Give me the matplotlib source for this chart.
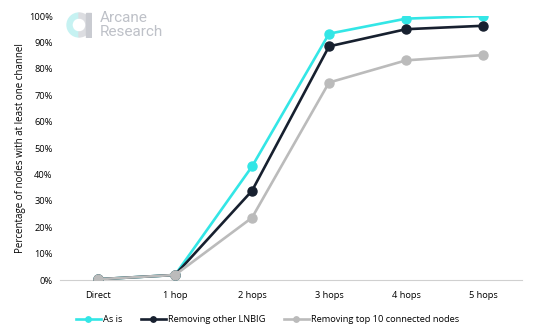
import matplotlib.pyplot as plt
from matplotlib.patches import Wedge, Rectangle

plt.rcParams['font.family'] = ['Open Sans', 'DejaVu Sans']

hops = ["Direct", "1 hop", "2 hops", "3 hops", "4 hops", "5 hops"]
as_is = [0.3, 1.9, 43.0, 93.3, 99.0, 100.0]
no_lnbig = [0.3, 1.9, 33.8, 88.5, 95.0, 96.3]
no_top10 = [0.3, 1.9, 23.6, 74.8, 83.2, 85.2]

fig = plt.figure(figsize=(5.41, 3.30), dpi=100)
ax = fig.add_axes([0.11, 0.1515, 0.854, 0.80])

x = range(len(hops))
ax.plot(x, as_is, color="#33E6E6", lw=1.9, marker="o", ms=6.5, label="As is", zorder=3)
ax.plot(x, no_lnbig, color="#17202F", lw=1.9, marker="o", ms=6.5, label="Removing other LNBIG", zorder=4)
ax.plot(x, no_top10, color="#BBBBBB", lw=1.9, marker="o", ms=6.5, label="Removing top 10 connected nodes", zorder=5)

ax.set_xlim(-0.5, 5.5)
ax.set_ylim(0, 100)
ax.set_xticks(list(x))
ax.set_xticklabels(hops, fontsize=6.7)
ax.set_yticks(range(0, 101, 10))
ax.set_yticklabels([f"{v}%" for v in range(0, 101, 10)], fontsize=6.7)
ax.tick_params(length=0, pad=8)
ax.tick_params(axis="y", pad=5)
for s in ["top", "right", "left"]:
    ax.spines[s].set_visible(False)
ax.spines["bottom"].set_color("#D0D0D0")
ax.spines["bottom"].set_linewidth(0.8)
ax.set_ylabel("Percentage of nodes with at least one channel", fontsize=7, labelpad=2)

ax.legend(loc="upper center", bbox_to_anchor=(0.45, -0.1), ncol=3, frameon=False,
          fontsize=6.7, handlelength=2.7, handletextpad=0.2, columnspacing=2.0, markerscale=0.6)

# watermark logo
lg = fig.add_axes([66 / 541, 1 - 38 / 330, 26 / 541, 26 / 330])
lg.set_xlim(-1, 1)
lg.set_ylim(-1, 1)
lg.set_aspect("equal")
lg.axis("off")
lg.add_patch(Wedge((0, 0), 0.92, 90, 270, width=0.38, color="#C6F2F2"))
lg.add_patch(Wedge((0, 0), 0.92, 270, 90, width=0.38, color="#DCDDE1"))
lg.add_patch(Rectangle((0.54, -0.92), 0.38, 1.84, color="#C9CBD1"))
fig.text(100 / 541, 1 - 25 / 330, "Arcane\nResearch", fontsize=11, color="#BEC1C8",
         va="center", ha="left", linespacing=0.95, family=["Roboto", "DejaVu Sans"])

fig.savefig("out.png", dpi=100)
